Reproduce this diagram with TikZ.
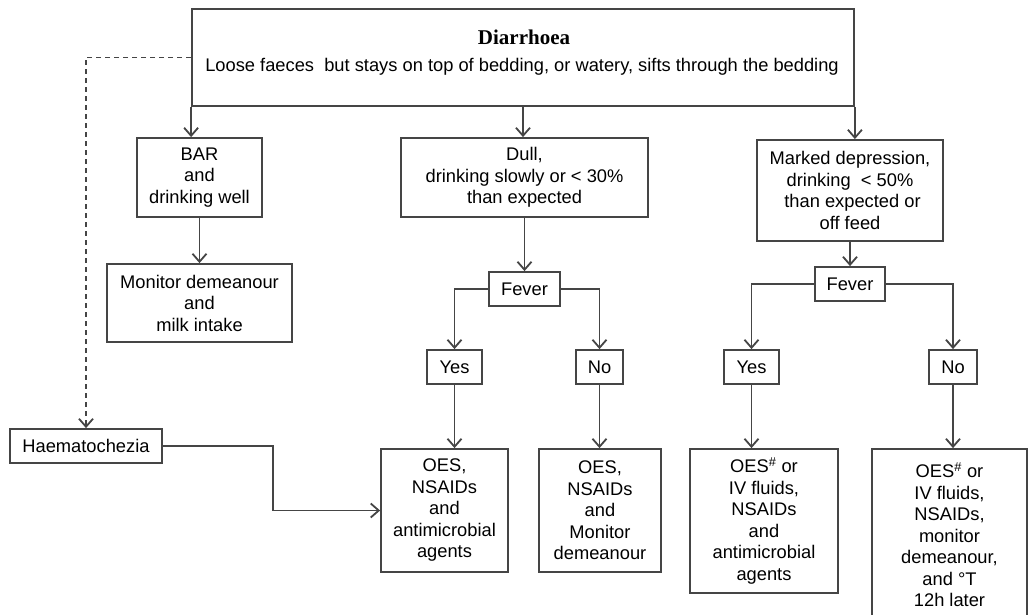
\documentclass[tikz,border=0pt]{standalone}
\usepackage{fontspec}
\setmainfont{Liberation Sans}
\newfontfamily\titlefont{Liberation Serif}
\usetikzlibrary{arrows.meta}
\definecolor{linegray}{HTML}{454545}
\begin{document}
\begin{tikzpicture}[x=1pt,y=-1pt,
  box/.style={draw=linegray, line width=1.8pt, inner sep=0pt, align=center,
    font=\fontsize{18.3}{21.5}\selectfont, text=black},
  conn/.style={draw=linegray, line width=1.8pt, -{Straight Barb[length=8pt,width=14pt,line width=1.8pt]}},
  dconn/.style={conn, dashed, dash pattern=on 5pt off 4pt}]
\clip (0,0) rectangle (1028,615);
\fill[white] (0,0) rectangle (1028,615);
% top box
\node[box, minimum width=662pt, minimum height=97pt] (top) at (523,57.5) {};
\node[font=\titlefont\bfseries\fontsize{21}{25}\selectfont] (title) at (524,37) {Diarrhoea};
\node[font=\fontsize{18.3}{21.5}\selectfont] (sub) at (522,67) {Loose faeces\ \ but stays on top of bedding, or watery, sifts through the bedding};
% left branch
\node[box, minimum width=125pt, minimum height=79pt] (bar) at (199.5,177.5) {BAR\\and\\drinking well};
\node[box, minimum width=185pt, minimum height=78pt] (mon) at (199.5,303) {Monitor demeanour\\and\\milk intake};
% middle branch
\node[box, minimum width=247pt, minimum height=79pt] (dull) at (524.5,177.5) {Dull,\\drinking slowly or < 30\%\\than expected};
\node[box, minimum width=71pt, minimum height=34pt] (fev1) at (524.5,289) {Fever};
\node[box, minimum width=55pt, minimum height=34pt] (yes1) at (454.5,367) {Yes};
\node[box, minimum width=47pt, minimum height=34pt] (no1) at (599.5,367) {No};
% right branch
\node[box, minimum width=186pt, minimum height=101pt] (mark) at (850,190.5) {Marked depression,\\drinking\ \ < 50\%\\\ than expected or\\off feed};
\node[box, minimum width=70pt, minimum height=34pt] (fev2) at (850,284) {Fever};
\node[box, minimum width=55pt, minimum height=34pt] (yes2) at (751.5,367) {Yes};
\node[box, minimum width=48pt, minimum height=34pt] (no2) at (953,367) {No};
% haematochezia
\node[box, minimum width=152pt, minimum height=34pt] (haem) at (86,446) {Haematochezia};
% outcomes
\node[box, minimum width=127pt, minimum height=123pt] (oes1) at (444.5,510.5) {OES,\\NSAIDs\\and\\antimicrobial\\agents};
\node[box, minimum width=122pt, minimum height=123pt] (oes2) at (600,510.5) {OES,\\NSAIDs\\and\\Monitor\\demeanour};
\node[box, minimum width=148pt, minimum height=144pt] (oes3) at (764,521) {OES\textsuperscript{\#} or\\IV fluids,\\NSAIDs\\and\\antimicrobial\\agents};
\node[box, minimum width=155pt, minimum height=172pt] (oes4) at (949.5,535) {OES\textsuperscript{\#} or\\IV fluids,\\NSAIDs,\\monitor\\demeanour,\\and °T\\12h later};
% connectors
\draw[conn] (top.south west) -- (top.south west |- bar.north);
\draw[conn] (top.south) -- (top.south |- dull.north);
\draw[conn] (top.south east) -- (top.south east |- mark.north);
\draw[conn] (bar) -- (mon);
\draw[conn] (dull) -- (fev1);
\draw[conn] (fev1.west) -| (yes1.north);
\draw[conn] (fev1.east) -| (no1.north);
\draw[conn] (mark) -- (fev2);
\draw[conn] (fev2.west) -| (yes2.north);
\draw[conn] (fev2.east) -| (no2.north);
\draw[conn] (yes1.south) -- (yes1.south |- oes1.north);
\draw[conn] (no1.south) -- (no1.south |- oes2.north);
\draw[conn] (yes2.south) -- (yes2.south |- oes3.north);
\draw[conn] (no2.south) -- (no2.south |- oes4.north);
\draw[conn] (haem.east) -- ++(110,0) |- (oes1.west);
\draw[dconn] (top.west) -| (haem.north);
\end{tikzpicture}
\end{document}
